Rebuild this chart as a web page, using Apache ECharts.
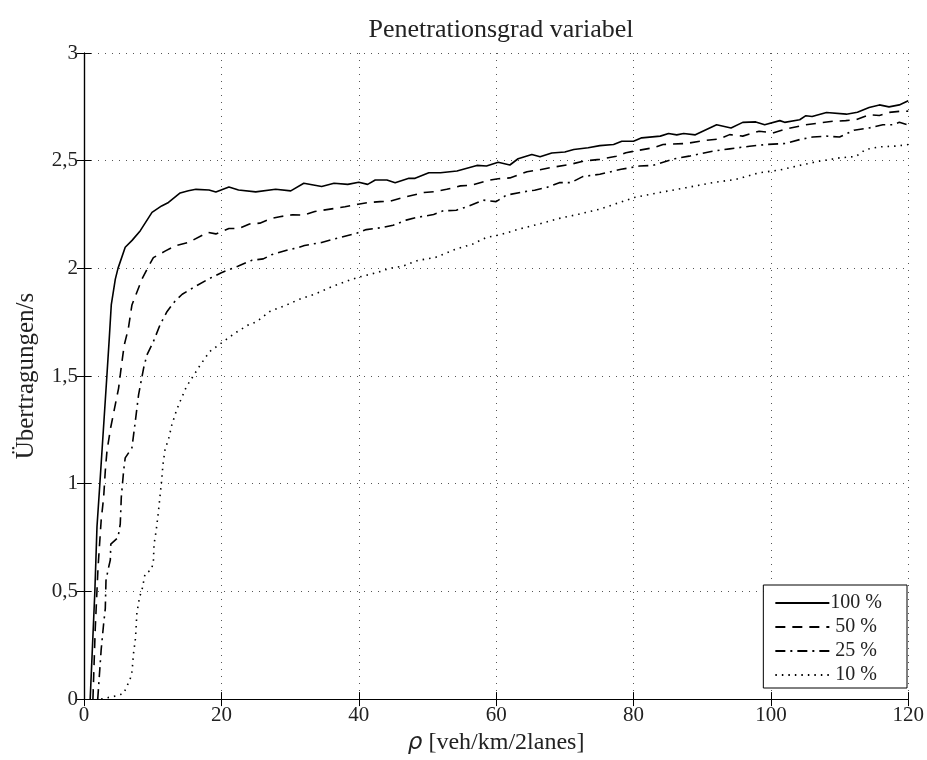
<!DOCTYPE html>
<html><head><meta charset="utf-8">
<script src="https://cdn.jsdelivr.net/npm/echarts@6/dist/echarts.min.js"></script>
<style>html,body{margin:0;padding:0;background:#fff}#c{width:927px;height:760px}</style>
</head><body><div id="c"></div>
<script>
var seriesNames = ['100 %', '50 %', '25 %', '10 %'];
var xTicks = [0, 20, 40, 60, 80, 100, 120];
var yTicks = [0, 0.5, 1, 1.5, 2, 2.5, 3];

var rho100 = [0.9,1.58,1.89,2.31,3.33,3.68,3.97,4.56,4.95,6.0,7.0,8.2,9.9,11.3,12.3,14,15.2,16.3,18.2,19.2,21.1,22.5,25,27.9,30.1,32,34.6,36.4,38.4,40,41.3,42.4,44.1,45.3,47.3,48.2,50.2,51.9,54.3,57.2,58.6,60.3,62,63.2,65.2,66.4,68.1,70,71.3,73.4,75.1,77.1,78.3,80,81.2,83.9,85.1,86.3,87.3,89,92.1,94.2,95.9,97.8,99.1,101.3,102,104.2,105.1,106,108.1,111,112.6,114.3,115.8,117.2,118.7,120];
var val100 = [0,0.5,0.8,1.0,1.5,1.675,1.83,1.95,2.0,2.098,2.13,2.175,2.26,2.29,2.306,2.35,2.36,2.367,2.364,2.355,2.378,2.364,2.355,2.367,2.36,2.395,2.38,2.395,2.39,2.40,2.39,2.41,2.41,2.398,2.418,2.418,2.444,2.444,2.452,2.478,2.475,2.493,2.48,2.509,2.529,2.518,2.536,2.54,2.552,2.56,2.57,2.575,2.59,2.59,2.606,2.614,2.626,2.62,2.626,2.62,2.667,2.652,2.678,2.68,2.667,2.686,2.678,2.69,2.709,2.705,2.724,2.716,2.725,2.747,2.759,2.75,2.759,2.778];

var rho50 = [1.3,1.64,2.04,2.5,2.86,3.1,3.35,3.88,5.04,5.43,5.86,6.45,6.98,8.44,9.4,10.1,11.8,13.3,15.2,18.0,19.2,21.1,22.5,24.1,25.6,27.3,28.5,30.4,32,33.6,36.8,38,39.9,41.3,43.1,44.6,46.5,49.5,51,52.8,54.8,56.4,59.1,60.3,62,64.5,66.4,68.3,70.7,72.7,75.1,77.5,78.9,80.9,82.9,84.3,87.7,90.1,92.5,94,95.9,98.3,100.3,102.2,105.1,107.1,109,110.9,112.4,114.3,115.8,117.2,118.7,120];
var val50 = [0,0.33,0.61,0.83,0.937,1.06,1.154,1.26,1.444,1.544,1.644,1.72,1.83,1.95,2.01,2.05,2.08,2.105,2.12,2.167,2.16,2.185,2.185,2.206,2.21,2.232,2.24,2.249,2.247,2.264,2.28,2.286,2.298,2.305,2.31,2.312,2.329,2.352,2.356,2.367,2.383,2.386,2.41,2.416,2.42,2.449,2.458,2.47,2.482,2.498,2.506,2.521,2.537,2.549,2.56,2.575,2.58,2.593,2.601,2.621,2.614,2.637,2.629,2.647,2.667,2.675,2.683,2.686,2.69,2.713,2.71,2.724,2.729,2.73];

var rho25 = [2.0,2.23,2.5,2.86,3.1,3.2,3.5,3.83,3.9,4.95,5.28,5.43,5.77,6.0,6.98,7.47,7.95,8.68,9.16,10.1,11.1,12.1,13.3,14.3,16.1,18.1,20,22.4,24.4,26.1,27.3,29.7,31,32.1,33.4,34.6,36,37.7,39.7,41.1,43.5,45,46.9,48.4,50.9,52.3,54.2,56.1,58.1,60,61.5,63.9,65.6,67.3,69.2,70.9,72.6,75.1,78.2,80.9,82.8,86,88.1,91.5,94,96.9,99.3,102.2,104.2,106.1,108.1,110,112.1,114.3,116.3,117.7,118.7,120];
var val25 = [0,0.106,0.23,0.35,0.42,0.55,0.6,0.646,0.72,0.75,0.814,0.937,1.06,1.12,1.167,1.29,1.414,1.537,1.598,1.66,1.74,1.8,1.85,1.88,1.914,1.95,1.98,2.01,2.037,2.044,2.063,2.086,2.095,2.106,2.114,2.12,2.133,2.147,2.163,2.18,2.19,2.2,2.224,2.236,2.25,2.267,2.27,2.29,2.317,2.31,2.34,2.355,2.363,2.375,2.398,2.398,2.426,2.437,2.46,2.475,2.478,2.509,2.521,2.544,2.555,2.567,2.575,2.58,2.598,2.61,2.614,2.61,2.641,2.652,2.667,2.667,2.678,2.666];

var rho10 = [2.5,3.35,4.56,5.77,6.25,6.7,7.0,7.2,7.5,7.7,8.1,8.44,8.9,9.8,10.1,10.2,10.5,10.8,11.05,11.3,11.5,11.8,12.3,12.8,13.5,14,14.5,14.9,15.7,16.9,18.3,19.3,20.3,22,23.9,25.1,27.05,29.2,31.4,33.8,36,38.2,40.1,42.6,44.5,46.4,48.6,51.1,54.2,56.6,58.6,60.5,63.4,66.3,69.2,72.1,75.1,78,80.1,83.8,87.7,91.5,94.9,98.3,101.2,104.2,107.1,110,112.4,113.8,115.8,118.3,120];
var val10 = [0,0.006,0.014,0.026,0.06,0.09,0.13,0.21,0.283,0.4,0.475,0.506,0.583,0.6,0.637,0.72,0.78,0.86,0.937,1.014,1.09,1.16,1.206,1.275,1.344,1.383,1.42,1.45,1.49,1.55,1.614,1.637,1.66,1.7,1.737,1.752,1.80,1.826,1.857,1.883,1.914,1.94,1.96,1.98,2.0,2.01,2.037,2.05,2.09,2.113,2.144,2.155,2.183,2.206,2.232,2.252,2.275,2.306,2.329,2.352,2.375,2.398,2.413,2.444,2.456,2.478,2.498,2.513,2.52,2.552,2.564,2.568,2.575];

function pairs(xs, ys) { return xs.map(function (x, i) { return [x, ys[i]]; }); }

var FONT = 'Liberation Serif';
var chart = echarts.init(document.getElementById('c'), null, {renderer: 'canvas'});
var gridLine = {show: true, lineStyle: {color: '#555', width: 1, type: [1, 6]}};
var axisLine = {show: true, lineStyle: {color: '#000', width: 1.2}};
var tick = {show: true, inside: true, length: 7, lineStyle: {color: '#000'}};
var fmt = function (v) { return String(v).replace('.', ','); };

var styles = [
  {type: 'solid'},
  {type: [10, 7]},
  {type: [10, 5, 2, 5]},
  {type: [1.5, 5]}
];
var dataSets = [pairs(rho100, val100), pairs(rho50, val50), pairs(rho25, val25), pairs(rho10, val10)];

chart.setOption({
  animation: false,
  backgroundColor: '#fff',
  title: {
    text: 'Penetrationsgrad variabel',
    left: 496, top: 12, textAlign: 'center',
    textStyle: {fontFamily: FONT, fontSize: 26, fontWeight: 'normal', color: '#222'}
  },
  grid: {left: 84, right: 18, top: 53, bottom: 57},
  legend: {
    orient: 'vertical', right: 20, bottom: 72,
    data: seriesNames,
    itemWidth: 54, itemHeight: 20, itemGap: 4,
    padding: [8, 25, 3, 11],
    borderColor: '#000', borderWidth: 1, backgroundColor: '#fff',
    itemStyle: {opacity: 0},
    textStyle: {fontFamily: FONT, fontSize: 20, color: '#222', padding: [0, 0, 0, -4]},
    formatter: function (n) { return (n.length < 5 ? ' ' : '') + n; }
  },
  xAxis: [{
    type: 'value', min: 0, max: 120, interval: 20,
    name: '{g|ρ} [veh/km/2lanes]', nameLocation: 'middle', nameGap: 30,
    nameTextStyle: {fontFamily: FONT, fontSize: 24, color: '#222',
      rich: {g: {fontFamily: 'DejaVu Sans', fontStyle: 'italic', fontSize: 23, color: '#222'}}},
    axisLine: axisLine, axisTick: tick, splitLine: gridLine,
    axisLabel: {fontFamily: FONT, fontSize: 21, color: '#222', margin: 6, formatter: fmt}
  }, {
    type: 'value', min: 0, max: 120, interval: 20, position: 'top',
    axisLine: axisLine, axisTick: tick, splitLine: {show: false}, axisLabel: {show: false}
  }],
  yAxis: [{
    type: 'value', min: 0, max: 3, interval: 0.5,
    name: 'Übertragungen/s', nameLocation: 'middle', nameGap: 45,
    nameTextStyle: {fontFamily: FONT, fontSize: 25, color: '#222'},
    axisLine: axisLine, axisTick: tick, splitLine: gridLine,
    axisLabel: {fontFamily: FONT, fontSize: 21, color: '#222', margin: 6, formatter: fmt}
  }, {
    type: 'value', min: 0, max: 3, interval: 0.5, position: 'right',
    axisLine: axisLine, axisTick: tick, splitLine: {show: false}, axisLabel: {show: false}
  }],
  series: seriesNames.map(function (n, i) {
    return {
      name: n, type: 'line', data: dataSets[i], showSymbol: false, symbol: 'none',
      lineStyle: {color: '#000', width: i === 0 ? 1.6 : 1.6, type: styles[i].type},
      itemStyle: {color: '#000'}, z: 5 - i
    };
  })
});
</script></body></html>
